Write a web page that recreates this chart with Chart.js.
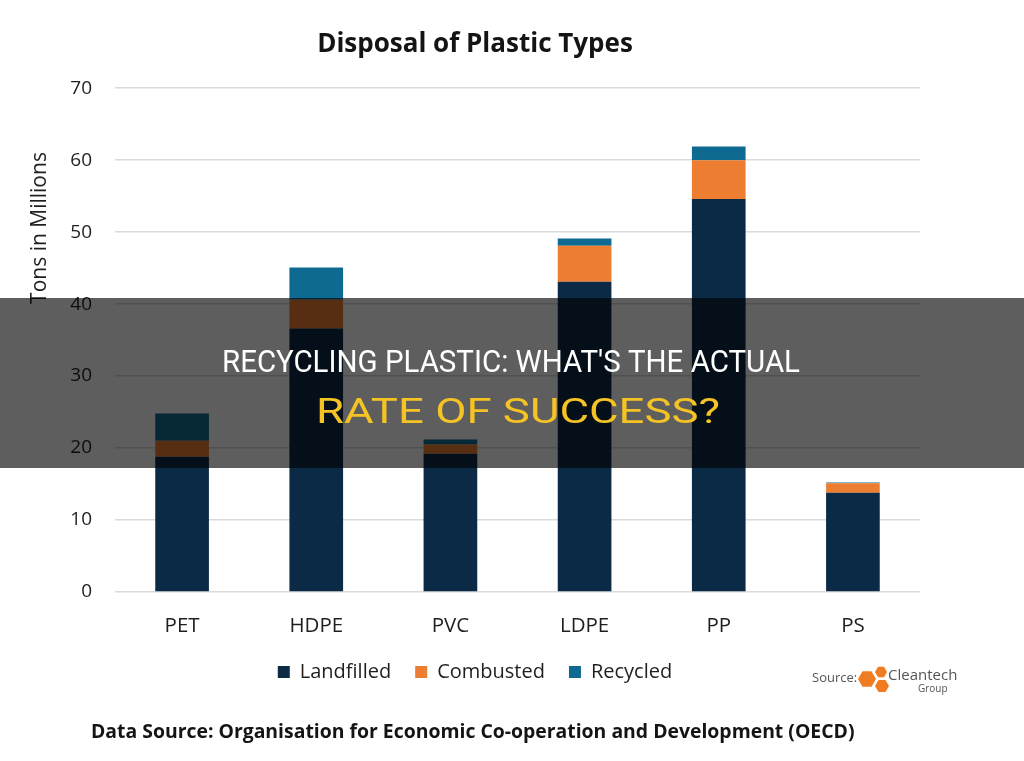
<!DOCTYPE html>
<html>
<head>
<meta charset="utf-8">
<script src="https://cdn.jsdelivr.net/npm/chart.js@4.4.1/dist/chart.umd.min.js"></script>
<style>
html, body { margin: 0; padding: 0; background: #fff; }
#grafico { display: block; }
</style>
</head>
<body>
<canvas id="grafico" width="1024" height="761"></canvas>
<script>
// datos (millones de toneladas)
const tipos = ["PET", "HDPE", "PVC", "LDPE", "PP", "PS"];
const landfilled = [18.8, 36.6, 19.2, 43.1, 54.6, 13.8];
const combusted = [2.2, 4.0, 1.3, 5.0, 5.4, 1.3];
const recycled = [3.8, 4.5, 0.7, 1.0, 1.9, 0.1];
const ticksY = [0, 10, 20, 30, 40, 50, 60, 70];

const fuente = "'Open Sans', 'DejaVu Sans', sans-serif";
const colorTexto = "#1f1f1f";

function hexagono(ctx, cx, cy, r) {
    ctx.beginPath();
    for (let i = 0; i < 6; i++) {
        const a = Math.PI / 3 * i;
        const x = cx + r * Math.cos(a);
        const y = cy + r * Math.sin(a);
        if (i == 0) ctx.moveTo(x, y); else ctx.lineTo(x, y);
    }
    ctx.closePath();
    ctx.fill();
}

function textoAjustado(ctx, txt, cx, base, ancho, size, color) {
    ctx.save();
    ctx.font = `${size}px Roboto, sans-serif`;
    const w = ctx.measureText(txt).width;
    ctx.translate(cx, base);
    ctx.scale(ancho / w, 1);
    ctx.fillStyle = color;
    ctx.textAlign = "center";
    ctx.textBaseline = "alphabetic";
    ctx.fillText(txt, 0, 0);
    ctx.restore();
}

const extras = {
    id: "extras",
    afterDraw(chart) {
        const ctx = chart.ctx;
        ctx.save();

        // titulo del eje Y
        ctx.translate(40, 228);
        ctx.rotate(-Math.PI / 2);
        ctx.font = `21px ${fuente}`;
        ctx.fillStyle = colorTexto;
        ctx.textAlign = "center";
        ctx.textBaseline = "middle";
        ctx.fillText("Tons in Millions", 0, 0);
        ctx.restore();

        // fuente de datos
        ctx.save();
        ctx.font = `bold 19.4px ${fuente}`;
        ctx.fillStyle = "#141414";
        ctx.textAlign = "left";
        ctx.textBaseline = "middle";
        ctx.fillText("Data Source: Organisation for Economic Co-operation and Development (OECD)", 91, 732);

        // logo Cleantech
        ctx.font = `13px ${fuente}`;
        ctx.fillStyle = "#555";
        ctx.fillText("Source:", 812, 678);
        ctx.fillStyle = "#f07c22";
        hexagono(ctx, 867, 679, 9);
        hexagono(ctx, 881, 672, 6);
        hexagono(ctx, 882, 686, 7);
        ctx.fillStyle = "#555";
        ctx.font = `15px ${fuente}`;
        ctx.fillText("Cleantech", 888, 676);
        ctx.font = `10px ${fuente}`;
        ctx.fillText("Group", 918, 689);
        ctx.restore();

        // banda oscura con el titular
        ctx.save();
        ctx.fillStyle = "rgba(0,0,0,0.63)";
        ctx.fillRect(0, 298, 1024, 170);
        ctx.restore();
        textoAjustado(ctx, "RECYCLING PLASTIC: WHAT'S THE ACTUAL", 511, 372, 578, 31, "#ffffff");
        textoAjustado(ctx, "RATE OF SUCCESS?", 518, 423, 404, 35, "#f6c325");
    }
};

new Chart("grafico", {
    type: "bar",
    data: {
        labels: tipos,
        datasets: [
            { label: "Landfilled", data: landfilled, backgroundColor: "#0b2a45" },
            { label: "Combusted", data: combusted, backgroundColor: "#ed7d31" },
            { label: "Recycled", data: recycled, backgroundColor: "#0f6a92" }
        ]
    },
    options: {
        responsive: false,
        animation: false,
        layout: { padding: { left: 30, right: 104, top: 0, bottom: 69 } },
        datasets: { bar: { barPercentage: 0.4, categoryPercentage: 1 } },
        plugins: {
            tooltip: { enabled: false },
            title: {
                display: true,
                text: "Disposal of Plastic Types",
                color: "#141414",
                font: { family: fuente, size: 26, weight: "bold" },
                padding: { top: 29, bottom: 28 }
            },
            legend: {
                position: "bottom",
                labels: {
                    boxWidth: 12,
                    boxHeight: 12,
                    padding: 24,
                    color: colorTexto,
                    font: { family: fuente, size: 20 }
                }
            }
        },
        scales: {
            x: {
                stacked: true,
                afterFit(scale) { scale.height = 46; },
                grid: { display: false },
                border: { display: false },
                ticks: { color: colorTexto, padding: 14, font: { family: fuente, size: 20.5 } }
            },
            y: {
                stacked: true,
                min: 0,
                max: 70,
                afterFit(scale) { scale.width = 85; },
                afterBuildTicks(scale) { scale.ticks = ticksY.map(v => ({ value: v })); },
                grid: { color: "#dadada", lineWidth: 1.5, drawTicks: false },
                border: { display: false },
                ticks: { color: colorTexto, padding: 23, font: { family: fuente, size: 19 } }
            }
        }
    },
    plugins: [extras]
});
</script>
</body>
</html>
